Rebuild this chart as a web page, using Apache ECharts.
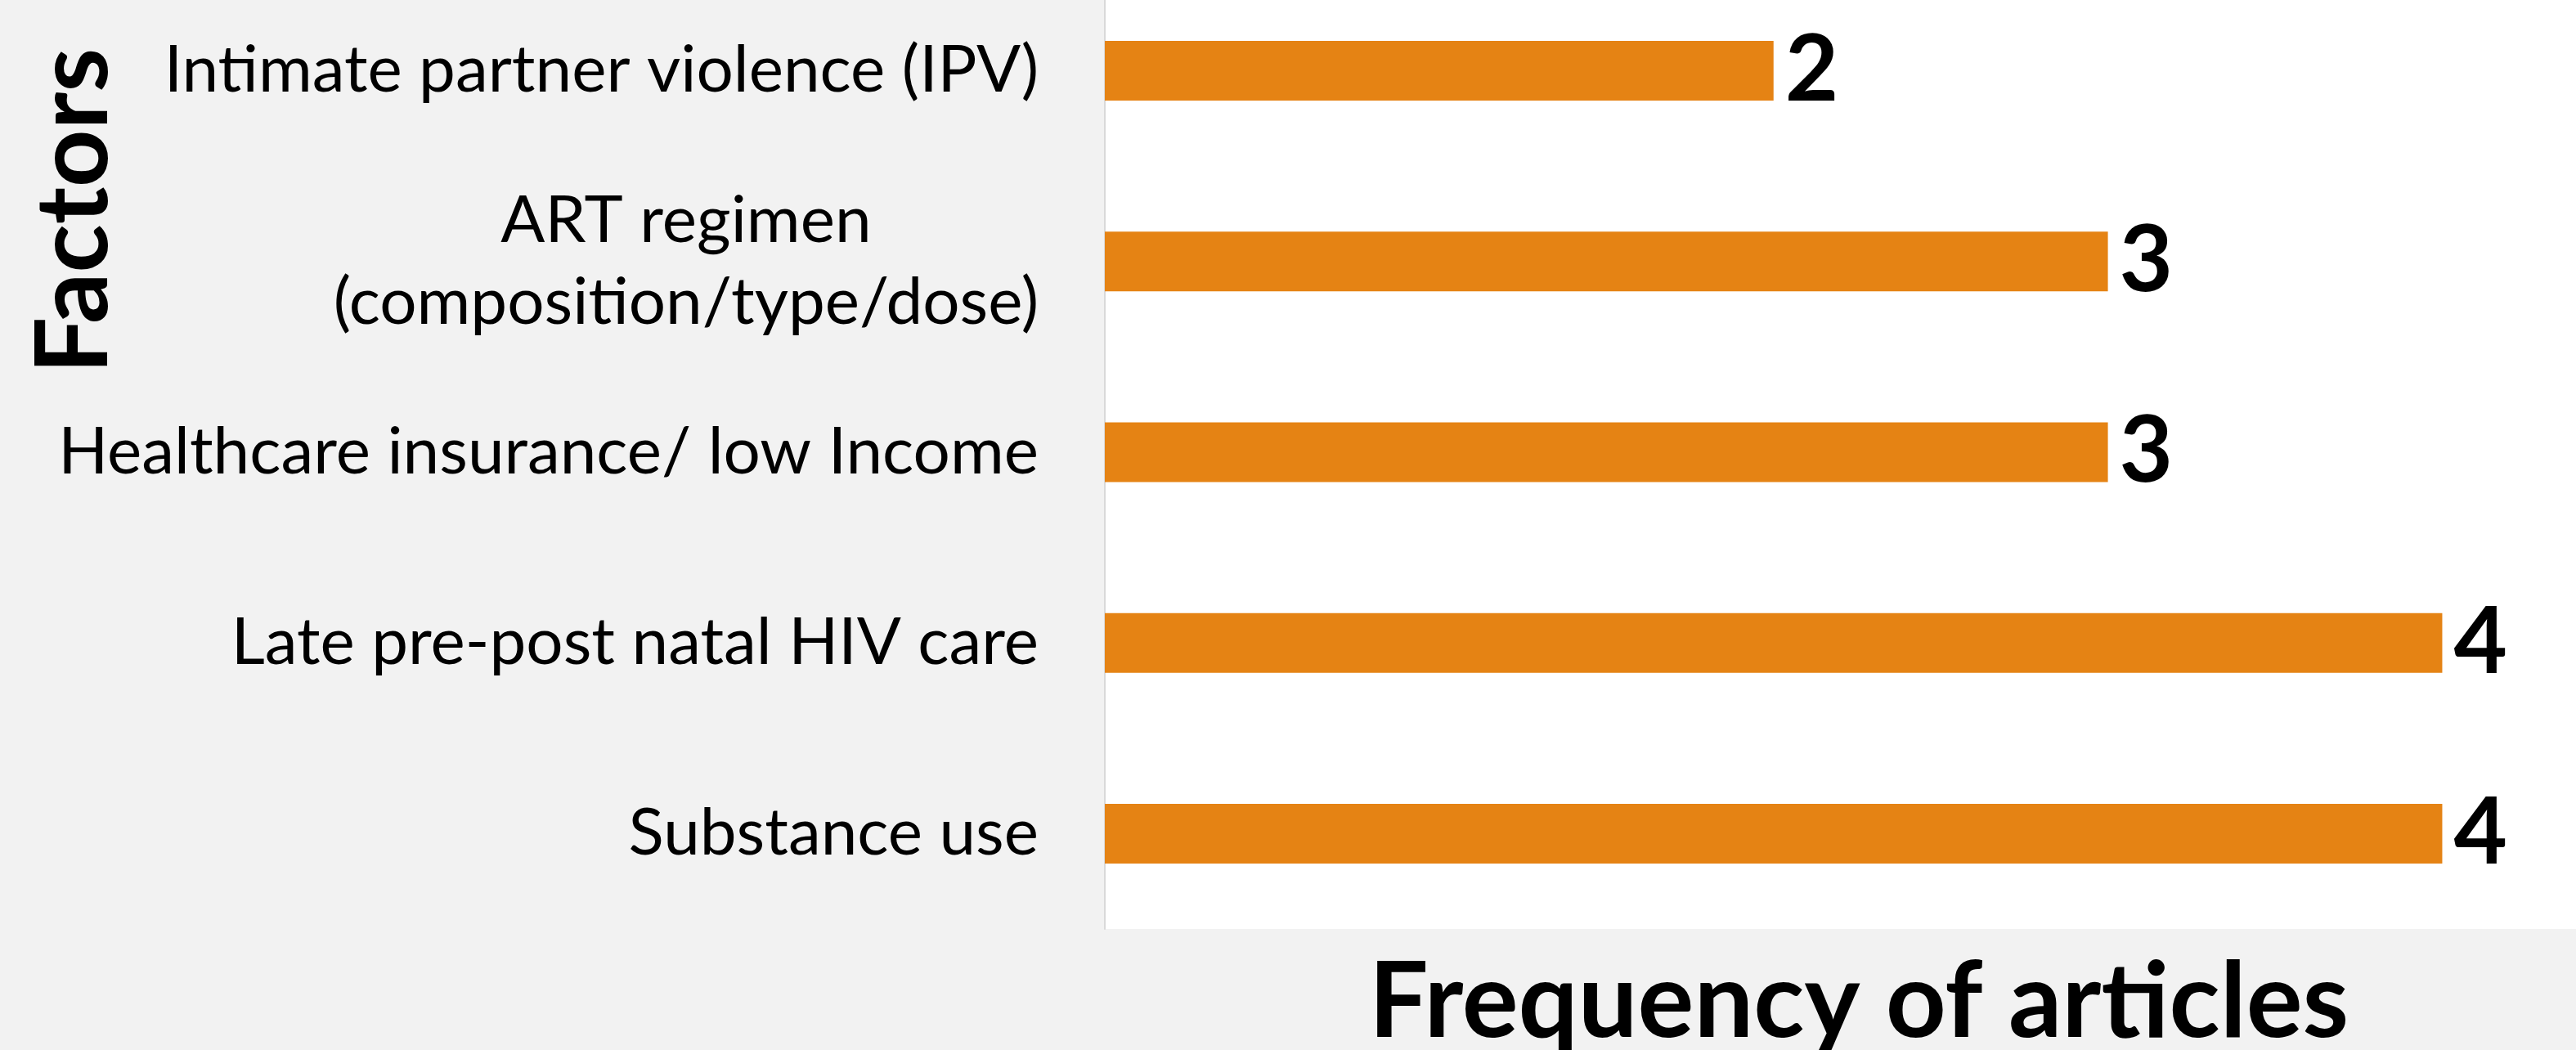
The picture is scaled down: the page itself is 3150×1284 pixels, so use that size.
<!DOCTYPE html>
<html>
<head>
<meta charset="utf-8">
<script src="https://cdn.jsdelivr.net/npm/echarts@6/dist/echarts.min.js"></script>
<style>
html,body{margin:0;padding:0;background:#f2f2f2;}
#chart{width:3150px;height:1284px;}
</style>
</head>
<body>
<div id="chart"></div>
<script>
const categories = [
  'Intimate partner violence (IPV)',
  'ART regimen\n(composition/type/dose)',
  'Healthcare insurance/ low Income',
  'Late pre-post natal HIV care',
  'Substance use'
];
const frequencies = [2, 3, 3, 4, 4];
const xAxisTitle = 'Frequency of articles';
const yAxisTitle = 'Factors';

const chart = echarts.init(document.getElementById('chart'), null, {renderer: 'canvas'});
chart.setOption({
  backgroundColor: '#f2f2f2',
  animation: false,
  grid: {
    left: 1351, right: 0, top: -30, bottom: 148,
    outerBoundsMode: 'none', containLabel: false,
    show: true, backgroundColor: '#ffffff', borderWidth: 0
  },
  xAxis: {
    type: 'value', min: 0, max: 4.4,
    axisLabel: {show: false}, axisLine: {show: false},
    axisTick: {show: false}, splitLine: {show: false}
  },
  yAxis: {
    type: 'category', inverse: true, data: categories,
    axisLine: {show: true, lineStyle: {color: '#d9d9d9', width: 2}},
    axisTick: {show: false},
    axisLabel: {
      color: '#000', fontFamily: 'Lato', fontSize: 80, margin: 81,
      lineHeight: 100, align: 'right',
      formatter: function (v) {
        return v.split('\n').map(function (s) { return '{c|' + s + '}'; }).join('\n');
      },
      rich: {c: {align: 'center', fontFamily: 'Lato', fontSize: 80, lineHeight: 100, color: '#000'}}
    }
  },
  series: [{
    type: 'bar', data: frequencies, barWidth: 73,
    itemStyle: {color: '#e58314'},
    label: {
      show: true, position: 'right', distance: 14,
      color: '#000', fontFamily: 'Lato', fontWeight: 'bold', fontSize: 113
    }
  }],
  graphic: [
    {
      type: 'text', x: 2273, y: 1226,
      style: {text: xAxisTitle, fill: '#000', font: 'bold 129px Lato',
               textAlign: 'center', textVerticalAlign: 'middle'}
    },
    {
      type: 'text', x: 91, y: 258, rotation: Math.PI / 2,
      style: {text: yAxisTitle, fill: '#000', font: 'bold 123px Lato',
              textAlign: 'center', textVerticalAlign: 'middle'}
    }
  ]
});
</script>
</body>
</html>
